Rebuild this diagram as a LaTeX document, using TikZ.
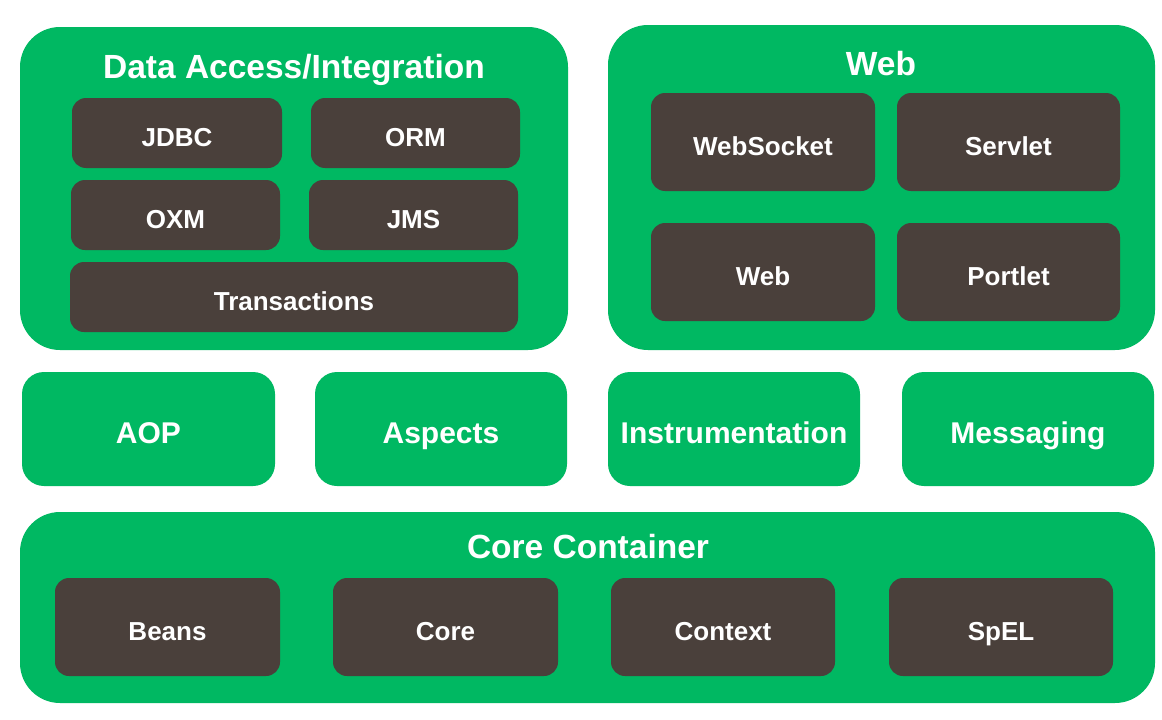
\documentclass[tikz,border=0pt]{standalone}
\usepackage{fontspec}
\setmainfont{Liberation Sans}
\definecolor{sgreen}{HTML}{00B862}
\definecolor{sdark}{HTML}{4A403B}
\begin{document}
\begin{tikzpicture}[x=1pt,y=-1pt,
  outerbox/.style={fill=sgreen,draw=none,rounded corners=40pt,inner sep=0pt},
  midbox/.style={fill=sgreen,draw=none,rounded corners=22pt,inner sep=0pt,text=white,
     font=\fontsize{30}{36}\selectfont\bfseries,text height=28pt,text depth=0pt},
  darkbox/.style={fill=sdark,draw=none,rounded corners=14pt,inner sep=0pt,text=white,
     font=\fontsize{26}{31}\selectfont\bfseries,text height=26pt,text depth=0pt},
  titletext/.style={text=white,inner sep=0pt,anchor=base,font=\fontsize{33.5}{40}\selectfont\bfseries}]
\path[use as bounding box,fill=white] (0,0) rectangle (1162,720);
\newcommand{\mybox}[7]{\node[#1,minimum width=#4-#2,minimum height=#5-#3] (#6) at ({(#2+#4)/2},{(#3+#5)/2}) {#7};}
% Data Access/Integration
\mybox{outerbox}{20}{27}{568}{350}{da}{}
\node[titletext] (datitle) at (294,78) {Data Access/Integration};
\mybox{darkbox}{72}{98}{282}{168}{jdbc}{JDBC}
\mybox{darkbox}{311}{98}{520}{168}{orm}{ORM}
\mybox{darkbox}{71}{180}{280}{250}{oxm}{OXM}
\mybox{darkbox}{309}{180}{518}{250}{jms}{JMS}
\mybox{darkbox}{70}{262}{518}{332}{tx}{Transactions}
% Web
\mybox{outerbox}{608}{25}{1155}{350}{web}{}
\node[titletext] (webtitle) at (881,75) {Web};
\mybox{darkbox}{651}{93}{875}{191}{websocket}{WebSocket}
\mybox{darkbox}{897}{93}{1120}{191}{servlet}{Servlet}
\mybox{darkbox}{651}{223}{875}{321}{webm}{Web}
\mybox{darkbox}{897}{223}{1120}{321}{portlet}{Portlet}
% middle row
\mybox{midbox}{22}{372}{275}{486}{aop}{AOP}
\mybox{midbox}{315}{372}{567}{486}{aspects}{Aspects}
\mybox{midbox}{608}{372}{860}{486}{instr}{Instrumentation}
\mybox{midbox}{902}{372}{1154}{486}{msg}{Messaging}
% Core Container
\mybox{outerbox}{20}{512}{1155}{703}{cc}{}
\node[titletext] (cctitle) at (588,558) {Core Container};
\mybox{darkbox}{55}{578}{280}{676}{beans}{Beans}
\mybox{darkbox}{333}{578}{558}{676}{core}{Core}
\mybox{darkbox}{611}{578}{835}{676}{context}{Context}
\mybox{darkbox}{889}{578}{1113}{676}{spel}{SpEL}
\end{tikzpicture}
\end{document}
